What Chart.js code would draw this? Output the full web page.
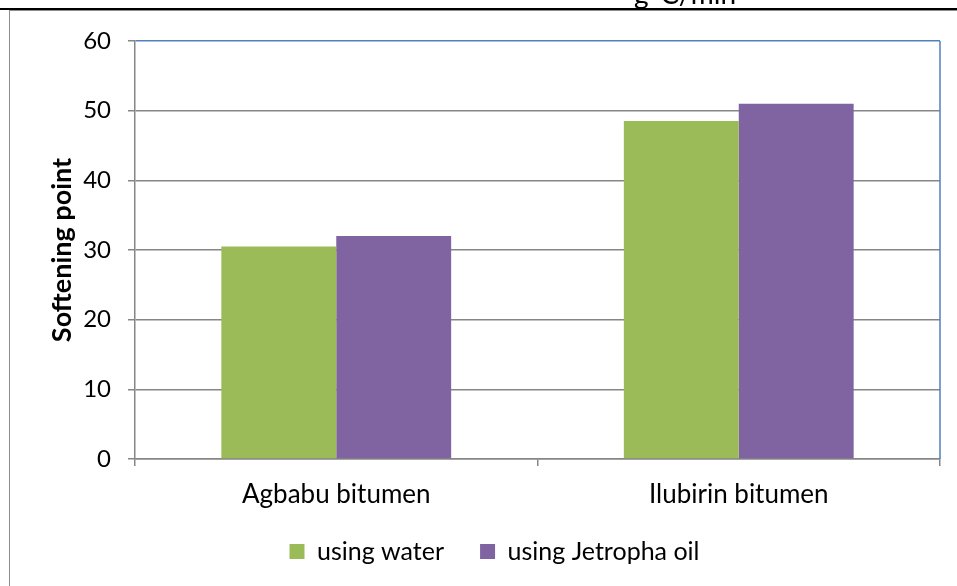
<!DOCTYPE html>
<html><head><meta charset="utf-8">
<script src="https://cdn.jsdelivr.net/npm/chart.js@4/dist/chart.umd.min.js"></script>
<style>
html,body{margin:0;padding:0;background:#fff;overflow:hidden;width:957px;height:586px}
#wrap{position:absolute;left:0;top:0;width:957px;height:586px}
#topline{position:absolute;left:0;top:8px;width:957px;height:2px;background:#000}
#frame{position:absolute;left:9px;top:10px;width:960px;height:600px;border-left:1px solid #8c8c8c;border-top:1px solid #8c8c8c}
#clip{position:absolute;left:634px;top:-24px;font:28px Lato, sans-serif;line-height:34px;color:#000;white-space:nowrap}
</style></head>
<body>
<div id="wrap"><canvas id="c" width="957" height="586"></canvas></div>
<div id="clip">g°C/min</div>
<div id="topline"></div><div id="frame"></div>
<script>
const categories = ['Agbabu bitumen', 'Ilubirin bitumen'];
const seriesNames = ['using water', 'using Jetropha oil'];
const usingWater = [30.5, 48.5];
const usingJetrophaOil = [32, 51];
const yTicks = [0, 10, 20, 30, 40, 50, 60];
const yTitle = 'Softening point';

const FONT = 'Lato, sans-serif';
const GRID = '#868686';
const BLUE = '#4F81BD';

const frameBorder = {
  id: 'frameBorder',
  afterDraw(chart) {
    const {ctx, chartArea: a} = chart;
    ctx.save();
    ctx.strokeStyle = BLUE;
    ctx.lineWidth = 1.5;
    ctx.beginPath();
    ctx.moveTo(a.right, a.top);
    ctx.lineTo(a.right, a.bottom);
    ctx.stroke();
    ctx.restore();
  }
};

new Chart(document.getElementById('c'), {
  type: 'bar',
  data: {
    labels: categories,
    datasets: [
      {label: seriesNames[0], data: usingWater, backgroundColor: '#9BBB59', borderWidth: 0},
      {label: seriesNames[1], data: usingJetrophaOil, backgroundColor: '#8064A2', borderWidth: 0}
    ]
  },
  options: {
    responsive: false,
    animation: false,
    devicePixelRatio: 1,
    datasets: {bar: {categoryPercentage: 0.571, barPercentage: 1.0}},
    layout: {padding: {left: 49, top: 41, right: 17, bottom: 12}},
    plugins: {
      tooltip: {enabled: false},
      legend: {
        position: 'bottom',
        labels: {
          boxWidth: 15, boxHeight: 15, padding: 36,
          color: '#000', font: {family: FONT, size: 25}
        }
      }
    },
    scales: {
      x: {
        offset: true,
        grid: {drawOnChartArea: false, drawTicks: true, tickLength: 7, color: GRID, lineWidth: 1.5},
        border: {color: GRID, width: 1.5},
        ticks: {color: '#000', font: {family: FONT, size: 26}, padding: 13},
        afterFit(s) { s.height = 44; s._computeLabelArea = () => undefined; }
      },
      y: {
        min: 0, max: 60,
        afterBuildTicks(s) { s.ticks = yTicks.map(v => ({value: v})); },
        grid: {
          color: ctx => (ctx.tick && ctx.tick.value === 60) ? BLUE : GRID,
          lineWidth: 1.5, tickLength: 7, tickColor: GRID
        },
        border: {color: GRID, width: 1.5},
        ticks: {color: '#000', font: {family: FONT, size: 24}, padding: 17},
        title: {display: true, text: yTitle, color: '#000', font: {family: FONT, size: 27, weight: 'bold'}, padding: {top: -3, bottom: 0}},
        afterFit(s) { s.width = 86; s._computeLabelArea = () => undefined; }
      }
    }
  },
  plugins: [frameBorder]
});
</script>
</body></html>
